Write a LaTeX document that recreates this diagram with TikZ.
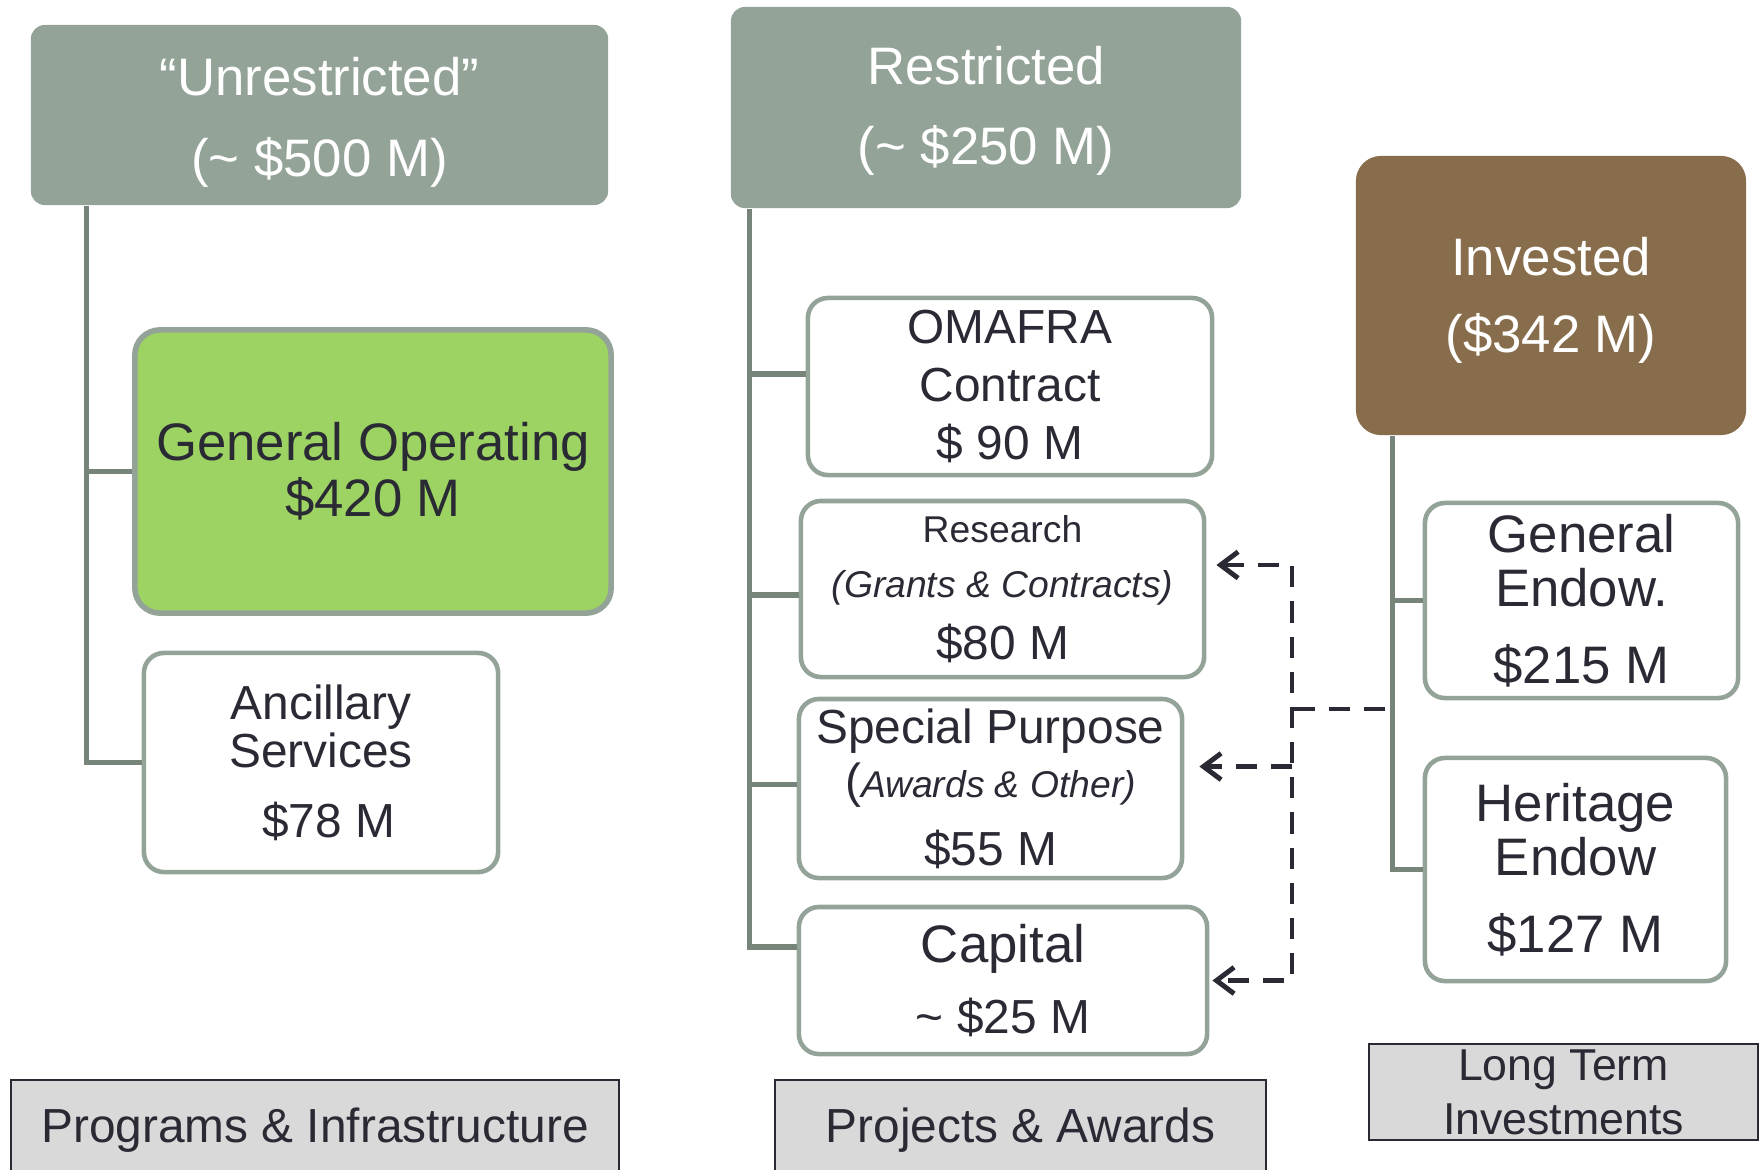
\documentclass[tikz,border=0pt]{standalone}
\usepackage{fontspec}
\setmainfont{Liberation Sans}
\usetikzlibrary{arrows.meta}

\definecolor{hdrgray}{HTML}{94A398}
\definecolor{rimgray}{HTML}{94A397}
\definecolor{stemgray}{HTML}{76847A}
\definecolor{investbrown}{HTML}{876D4B}
\definecolor{opgreen}{HTML}{9DD362}
\definecolor{ink}{HTML}{2A2A35}
\definecolor{tagfill}{HTML}{D9D9D9}

\newcommand{\szL}{\fontsize{15}{16}\selectfont}
\newcommand{\szM}{\fontsize{13.6}{16}\selectfont}
\newcommand{\szS}{\fontsize{10.6}{16}\selectfont}
% pushes a header's first line down a little
\newcommand{\lift}[1]{\rule{0pt}{#1}}

\tikzset{>={Straight Barb[length=5pt,width=7.5pt]}}
\tikzset{
  hdr/.style={rectangle, rounded corners=0.14cm, fill=hdrgray, text=white,
    align=center, inner sep=0pt, font=\szL},
  fund/.style={rectangle, rounded corners=0.2cm, draw=rimgray, line width=1.3pt,
    fill=white, text=ink, align=center, inner sep=0pt, font=\szM},
  tag/.style={rectangle, draw=ink, line width=0.6pt, fill=tagfill, text=ink,
    align=center, inner sep=0pt, font=\szM},
  stem/.style={draw=stemgray, line width=1.5pt},
  feed/.style={draw=ink, line width=1.4pt, dash pattern=on 6pt off 4pt},
}

\begin{document}
\begin{tikzpicture}[x=0.01cm, y=-0.01cm]
  \useasboundingbox (0,0) rectangle (1764,1169);
  \clip (0,0) rectangle (1764,1169);

  % fund headers
  \node[hdr, minimum width=5.77cm, minimum height=1.80cm] (unres) at (319.5,115)
    {\lift{15pt}“Unrestricted”\\[7pt](\textasciitilde{} \$500 M)};
  \node[hdr, minimum width=5.10cm, minimum height=2.01cm] (restr) at (986,107.5)
    {\lift{13pt}Restricted\\[6.8pt](\textasciitilde{} \$250 M)};
  \node[hdr, fill=investbrown, rounded corners=0.25cm,
    minimum width=3.90cm, minimum height=2.79cm] (invest) at (1551,295.5)
    {\lift{13.6pt}Invested\\[5.8pt](\$342 M)};

  % unrestricted funds
  \node[fund, fill=opgreen, line width=1.6pt, rounded corners=0.25cm, font=\szL,
    minimum width=4.76cm, minimum height=2.83cm] (genop) at (373,471.5)
    {General Operating\\\$420 M};
  \node[fund, minimum width=3.54cm, minimum height=2.19cm] (ancil) at (321,762.5)
    {Ancillary\\[-2.3pt]Services\\[3.9pt]\hspace*{4.4pt}\$78 M};

  % restricted funds
  \node[fund, minimum width=4.04cm, minimum height=1.77cm] (omafra) at (1010,386.5)
    {OMAFRA\\[0.6pt]Contract\\[0.6pt]\$ 90 M};
  \node[fund, minimum width=4.03cm, minimum height=1.76cm] (research) at (1002.5,589)
    {{\szS Research}\\[-0.4pt]{\szS\itshape (Grants \& Contracts)}\\[1.6pt]\$80 M};
  \node[fund, minimum width=3.83cm, minimum height=1.79cm] (special) at (990.5,788.5)
    {Special Purpose\\[-0.6pt]({\szS\itshape Awards \& Other)}\\[3.2pt]\$55 M};
  \node[fund, font=\szL, minimum width=4.08cm, minimum height=1.47cm] (capital) at (1003,980.5)
    {Capital\\[4.2pt]{\szM\textasciitilde{} \$25 M}};

  % endowments
  \node[fund, font=\szL, minimum width=3.13cm, minimum height=1.95cm] (genendow) at (1581.5,600.5)
    {General\\[-0.4pt]Endow.\\[5.8pt]\$215 M};
  \node[fund, font=\szL, minimum width=3.01cm, minimum height=2.23cm] (heritage) at (1575.5,869.5)
    {Heritage\\[-0.4pt]Endow\\[5.8pt]\$127 M};

  % column captions
  \node[tag, minimum width=6.08cm, minimum height=1.00cm] (progtag) at (315,1130)
    {Programs \& Infrastructure};
  \node[tag, minimum width=4.91cm, minimum height=1.00cm] (projtag) at (1020.5,1130)
    {Projects \& Awards};
  \node[tag, font=\fontsize{12.7}{16}\selectfont,
    minimum width=3.89cm, minimum height=0.96cm] (ltitag) at (1563.5,1092)
    {Long Term\\[-0.6pt]Investments};

  % tree stems
  \draw[stem] ([xshift=0.56cm]unres.south west) |- (genop.west);
  \draw[stem] ([xshift=0.56cm]unres.south west) |- (ancil.west);
  \draw[stem] ([xshift=0.19cm]restr.south west) |- ([yshift=0.125cm]omafra.west);
  \draw[stem] ([xshift=0.19cm]restr.south west) |- ([yshift=-0.06cm]research.west);
  \draw[stem] ([xshift=0.19cm]restr.south west) |- ([yshift=0.04cm]special.west);
  \draw[stem] ([xshift=0.19cm]restr.south west) |- ([yshift=0.335cm]capital.west);
  \draw[stem] ([xshift=0.37cm]invest.south west) |- (genendow.west);
  \draw[stem] ([xshift=0.37cm]invest.south west) |- (heritage.west);

  % endowment income feeding restricted funds
  \coordinate (tap) at (1385,709);
  \coordinate (split) at (1292,709);
  \coordinate (rin) at ([xshift=0.1cm,yshift=0.24cm]research.east);
  \coordinate (sin) at ([xshift=0.15cm,yshift=0.22cm]special.east);
  \coordinate (cin) at ([xshift=0.03cm]capital.east);
  \draw[feed] (tap) -- (split);
  \draw[feed,<->] (rin) -| (split) |- (cin);
  \draw[feed,->] (split |- sin) -- (sin);
\end{tikzpicture}
\end{document}
